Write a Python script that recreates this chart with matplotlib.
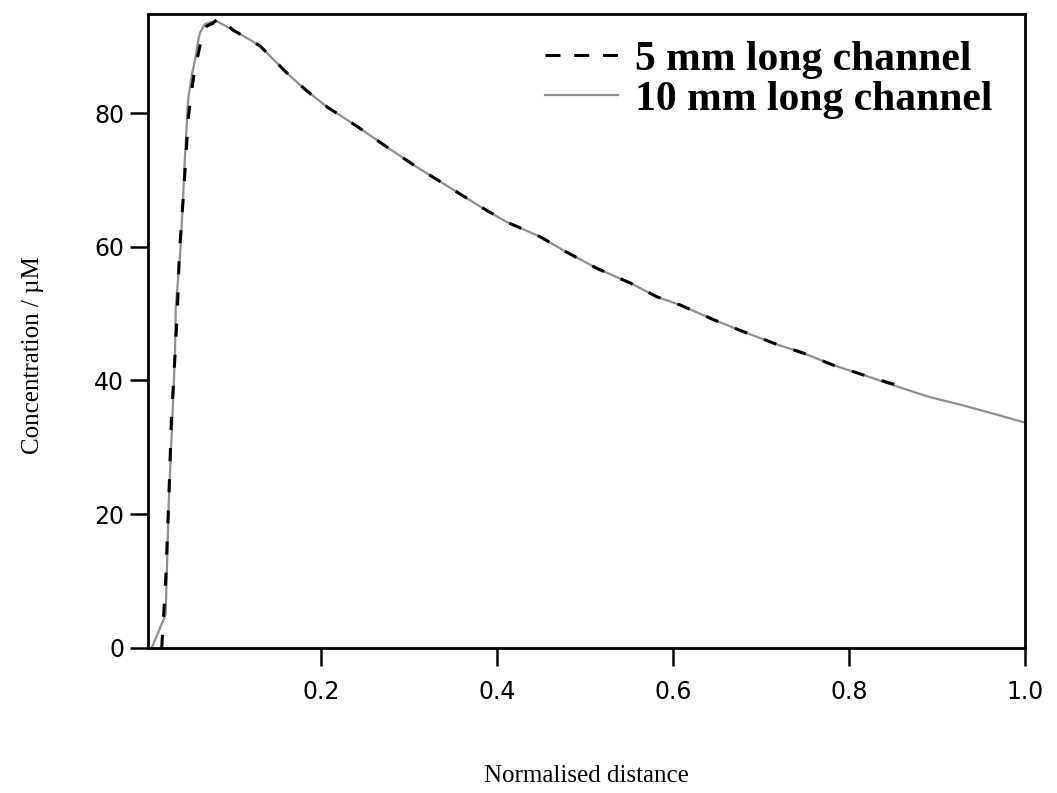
import matplotlib
matplotlib.use("Agg")
import matplotlib.pyplot as plt
from matplotlib.lines import Line2D

# 10 mm long channel (solid grey)
x_10mm = [0.0076, 0.021, 0.0235, 0.027, 0.031, 0.034, 0.035, 0.040, 0.043, 0.045,
          0.049, 0.053, 0.057, 0.060, 0.0625, 0.068, 0.075, 0.082, 0.100, 0.116,
          0.131, 0.146, 0.165, 0.184, 0.207, 0.241, 0.275, 0.309, 0.347, 0.381,
          0.411, 0.449, 0.479, 0.513, 0.551, 0.582, 0.608, 0.646, 0.680, 0.718,
          0.748, 0.782, 0.824, 0.850, 0.892, 0.926, 0.968, 1.0]
c_10mm = [0.0, 4.2, 5.0, 21.8, 34.0, 43.5, 51.0, 59.0, 66.4, 72.4,
          82.0, 85.5, 88.0, 90.5, 92.0, 93.3, 93.6, 93.7, 92.4, 91.2,
          90.0, 88.0, 85.5, 83.3, 80.9, 78.0, 74.9, 71.9, 68.8, 66.0,
          63.7, 61.5, 59.2, 56.8, 54.6, 52.5, 51.3, 49.1, 47.3, 45.4,
          44.1, 42.3, 40.5, 39.3, 37.5, 36.4, 34.9, 33.7]

# 5 mm long channel (dashed black), ends around 0.86
x_5mm = [0.0190, 0.0235, 0.027, 0.030, 0.034, 0.037, 0.039, 0.043, 0.046, 0.049,
         0.052, 0.056, 0.060, 0.064, 0.070, 0.077, 0.084, 0.100, 0.116, 0.131,
         0.146, 0.165, 0.184, 0.207, 0.241, 0.275, 0.309, 0.347, 0.381, 0.411,
         0.449, 0.479, 0.513, 0.551, 0.582, 0.608, 0.646, 0.680, 0.718, 0.748,
         0.782, 0.824, 0.862]
c_5mm = [0.0, 10.0, 22.0, 34.0, 43.5, 51.0, 59.0, 66.4, 72.4, 79.0,
         82.5, 86.0, 88.5, 91.0, 93.0, 93.4, 94.3, 92.4, 91.2, 90.0,
         88.0, 85.5, 83.3, 80.9, 78.0, 74.9, 71.9, 68.8, 66.0, 63.7,
         61.5, 59.2, 56.8, 54.6, 52.5, 51.3, 49.1, 47.3, 45.4, 44.1,
         42.3, 40.5, 39.0]

series_labels = ["5 mm long channel", "10 mm long channel"]

fig = plt.figure(figsize=(10.57, 7.93), dpi=100)
ax = fig.add_axes([0.140, 0.1829, 0.8297, 0.7994])

grey = "#8f8f8f"
ax.plot(x_10mm, c_10mm, color=grey, lw=1.6, zorder=2)
ax.plot(x_5mm, c_5mm, color="black", lw=2.2, dashes=(4.3, 5.9), zorder=3)

ax.set_xlim(0.0034, 1.0)
ax.set_ylim(0, 94.8)
ax.set_xticks([0.2, 0.4, 0.6, 0.8, 1.0])
ax.set_xticklabels(["0.2", "0.4", "0.6", "0.8", "1.0"])
ax.set_yticks([0, 20, 40, 60, 80])

for s in ax.spines.values():
    s.set_linewidth(2.0)
ax.tick_params(axis="x", direction="out", length=13, width=1.8, pad=10, labelsize=17)
ax.tick_params(axis="y", direction="out", length=13, width=1.8, pad=4, labelsize=17)
for lab in ax.get_xticklabels() + ax.get_yticklabels():
    lab.set_family("DejaVu Sans")

ax.set_xlabel("Normalised distance", family="Liberation Serif", fontsize=18)
ax.set_ylabel("Concentration / \u00b5M", family="Liberation Serif", fontsize=18)
ax.xaxis.set_label_coords(0.5, -0.184)
ax.yaxis.set_label_coords(-0.119, 0.462)

handles = [Line2D([], [], color="black", lw=2.2, dashes=(4.9, 4.5)),
           Line2D([], [], color=grey, lw=1.6)]
ax.legend(handles, series_labels, loc="upper left", bbox_to_anchor=(0.4527, 0.958),
          frameon=False, borderpad=0, borderaxespad=0, handlelength=1.75,
          handletextpad=0.42, labelspacing=0.04,
          prop={"family": "Liberation Serif", "weight": "bold", "size": 30})

fig.savefig("out.png", dpi=100)
